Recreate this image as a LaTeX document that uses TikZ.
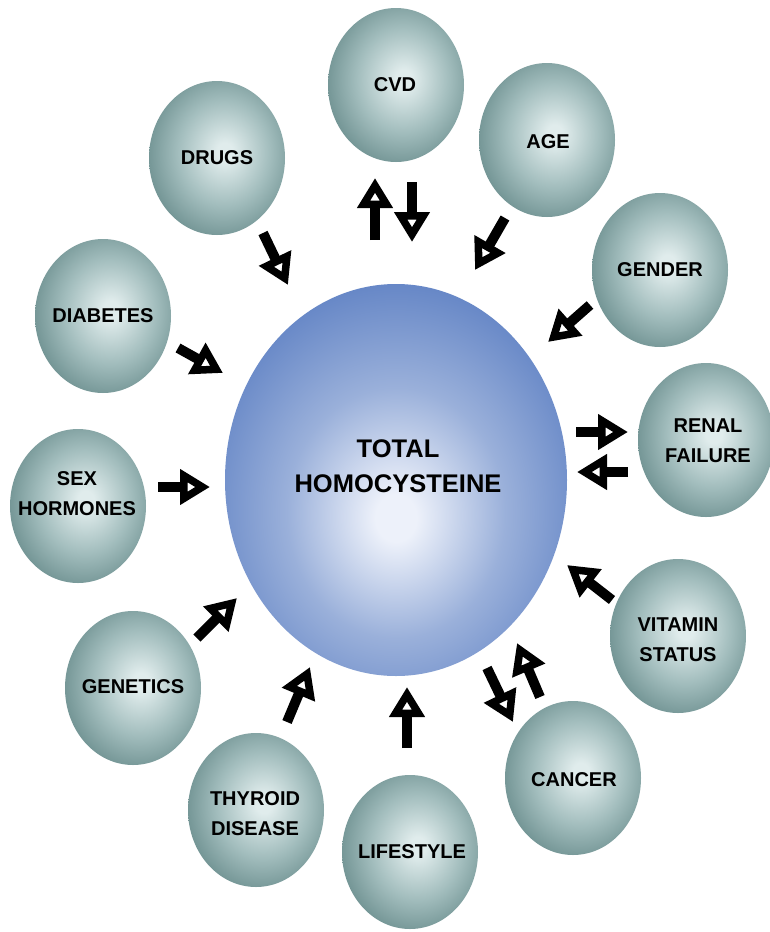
\documentclass[tikz,border=0pt]{standalone}
\usepackage{fontspec}
\setmainfont{Liberation Sans}
\usetikzlibrary{arrows.meta,shapes.geometric}
\definecolor{bubC}{HTML}{E0ECEC}
\definecolor{bubM}{HTML}{A2BDBD}
\definecolor{bubE}{HTML}{6A8D8D}
\definecolor{bigC}{HTML}{EDF1FA}
\definecolor{bigM}{HTML}{9AB0DA}
\definecolor{bigE}{HTML}{6586C6}
\pgfdeclareradialshading{bubshade}{\pgfpoint{3bp}{2bp}}{color(0bp)=(bubC); color(3bp)=(bubC); color(17bp)=(bubM); color(30bp)=(bubE); color(100bp)=(bubE)}
\pgfdeclareradialshading{bigshade}{\pgfpoint{0bp}{-5bp}}{color(0bp)=(bigC); color(3bp)=(bigC); color(16bp)=(bigM); color(29bp)=(bigE); color(100bp)=(bigE)}
\tikzset{
  bub/.style={ellipse, minimum width=136pt, minimum height=154pt, inner sep=0pt, shading=bubshade},
  big/.style={ellipse, minimum width=342pt, minimum height=392pt, inner sep=0pt, shading=bigshade},
  btxt/.style={font=\fontsize{20}{30}\selectfont\bfseries, align=center, inner sep=0pt, text=black},
  bigtxt/.style={font=\fontsize{25.5}{35}\selectfont\bfseries, align=center, inner sep=0pt, text=black},
  arr/.style={line width=10pt, -{Triangle[length=30pt, width=34pt, line width=8pt, fill=white]}}
}
\begin{document}
\begin{tikzpicture}[x=1pt, y=-1pt]
\useasboundingbox (0,0) rectangle (769,932);
\fill[white] (0,0) rectangle (769,932);
% central
\node[big] (hcy) at (396,480) {};
\node[bigtxt] (hcyt) at (398,466) {TOTAL\\HOMOCYSTEINE};
% bubbles
\node[bub] (cvd) at (396,85) {};
\node[bub] (age) at (547,140) {};
\node[bub] (gender) at (660,270) {};
\node[bub] (renal) at (706,440) {};
\node[bub] (vit) at (678,636) {};
\node[bub] (cancer) at (573,778) {};
\node[bub] (life) at (410,852) {};
\node[bub] (thy) at (256,810) {};
\node[bub] (gen) at (133,688) {};
\node[bub] (sex) at (78,506) {};
\node[bub] (diab) at (103,316) {};
\node[bub] (drugs) at (217,158) {};
% texts
\node[btxt] (cvdt) at (395,85) {CVD};
\node[btxt] (aget) at (548,142) {AGE};
\node[btxt] (gendert) at (660,270) {GENDER};
\node[btxt] (renalt) at (708,441) {RENAL\\FAILURE};
\node[btxt] (vitt) at (678,640) {VITAMIN\\STATUS};
\node[btxt] (cancert) at (574,780) {CANCER};
\node[btxt] (lifet) at (412,852) {LIFESTYLE};
\node[btxt] (thyt) at (255,814) {THYROID\\DISEASE};
\node[btxt] (gent) at (133,687) {GENETICS};
\node[btxt] (sext) at (77,494) {SEX\\HORMONES};
\node[btxt] (diabt) at (103,316) {DIABETES};
\node[btxt] (drugst) at (217,158) {DRUGS};
% arrow endpoints
\coordinate (cvdUs) at (375,240); \coordinate (cvdUe) at (375,178);
\coordinate (cvdDs) at (412,182); \coordinate (cvdDe) at (412,242);
\coordinate (ageS) at (505,218); \coordinate (ageE) at (475,270);
\coordinate (genderS) at (590,305); \coordinate (genderE) at (548,342);
\coordinate (renRs) at (576,432); \coordinate (renRe) at (628,432);
\coordinate (renLs) at (628,472); \coordinate (renLe) at (577,472);
\coordinate (vitS) at (612,600); \coordinate (vitE) at (567,565);
\coordinate (canDs) at (487,668); \coordinate (canDe) at (513,722);
\coordinate (canUs) at (540,697); \coordinate (canUe) at (517,643);
\coordinate (lifeS) at (407,748); \coordinate (lifeE) at (407,687);
\coordinate (thyS) at (287,722); \coordinate (thyE) at (310,667);
\coordinate (genS) at (197,638); \coordinate (genE) at (237,598);
\coordinate (sexS) at (158,487); \coordinate (sexE) at (210,487);
\coordinate (diabS) at (178,348); \coordinate (diabE) at (223,373);
\coordinate (drugsS) at (263,233); \coordinate (drugsE) at (288,285);
% arrows
\draw[arr] (cvdUs) -- (cvdUe);
\draw[arr] (cvdDs) -- (cvdDe);
\draw[arr] (ageS) -- (ageE);
\draw[arr] (genderS) -- (genderE);
\draw[arr] (renRs) -- (renRe);
\draw[arr] (renLs) -- (renLe);
\draw[arr] (vitS) -- (vitE);
\draw[arr] (canDs) -- (canDe);
\draw[arr] (canUs) -- (canUe);
\draw[arr] (lifeS) -- (lifeE);
\draw[arr] (thyS) -- (thyE);
\draw[arr] (genS) -- (genE);
\draw[arr] (sexS) -- (sexE);
\draw[arr] (diabS) -- (diabE);
\draw[arr] (drugsS) -- (drugsE);
\end{tikzpicture}
\end{document}
